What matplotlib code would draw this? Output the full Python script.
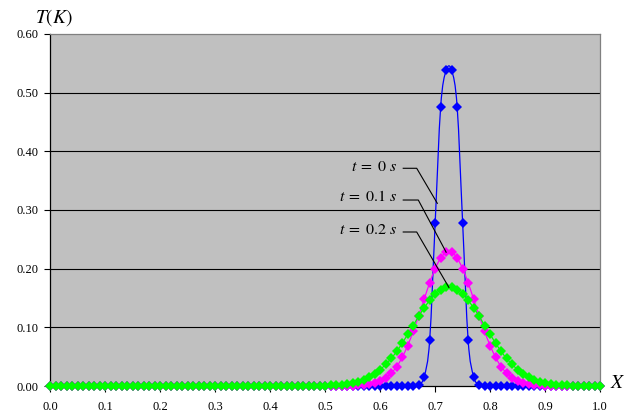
import numpy as np
import matplotlib
matplotlib.use("Agg")
import matplotlib.pyplot as plt
from matplotlib.path import Path
from matplotlib.patches import PathPatch

plt.rcParams["font.family"] = ["Liberation Serif", "DejaVu Serif"]
plt.rcParams["mathtext.fontset"] = "stix"

# Spatial grid (101 nodes on [0, 1])
x_pos = np.linspace(0.0, 1.0, 101)

# Temperature profiles T(K) at three times
temp_t0 = ([0.0] * 67 +
           [0.002, 0.016, 0.078,
            0.278, 0.476, 0.538, 0.538, 0.476, 0.278, 0.078, 0.016, 0.002] +
           [0.0] * 22)

temp_t01 = ([0.0] * 56 +
            [0.001, 0.001, 0.003, 0.005,
             0.008, 0.014, 0.022, 0.033, 0.049, 0.069, 0.093, 0.120, 0.148, 0.176,
             0.200, 0.218, 0.228, 0.228, 0.218, 0.200, 0.176, 0.148, 0.120, 0.093,
             0.069, 0.049, 0.033, 0.022, 0.014, 0.008, 0.005, 0.003, 0.001, 0.001] +
            [0.0] * 11)

temp_t02 = ([0.0] * 51 +
            [0.001, 0.001, 0.002, 0.003, 0.005, 0.007, 0.011, 0.015, 0.021,
             0.028, 0.037, 0.047, 0.059, 0.073, 0.088, 0.103, 0.119, 0.133, 0.146,
             0.156, 0.164, 0.168, 0.168, 0.164, 0.156, 0.146, 0.133, 0.119, 0.103,
             0.088, 0.073, 0.059, 0.047, 0.037, 0.028, 0.021, 0.015, 0.011, 0.007,
             0.005, 0.003, 0.002, 0.001, 0.001] +
            [0.0] * 6)

series_colors = ["#0000FF", "#FF00FF", "#00FF00"]
x_ticks = [0.0, 0.1, 0.2, 0.3, 0.4, 0.5, 0.6, 0.7, 0.8, 0.9, 1.0]
y_ticks = [0.0, 0.1, 0.2, 0.3, 0.4, 0.5, 0.6]


def smooth_path(xs, ys):
    """Catmull-Rom style cubic Bezier path through the given points."""
    pts = np.column_stack([xs, ys])
    n = len(pts)
    verts = [pts[0]]
    codes = [Path.MOVETO]
    for i in range(n - 1):
        p0 = pts[i - 1] if i > 0 else pts[i]
        p1 = pts[i]
        p2 = pts[i + 1]
        p3 = pts[i + 2] if i + 2 < n else pts[i + 1]
        c1 = p1 + (p2 - p0) / 6.0
        c2 = p2 - (p3 - p1) / 6.0
        verts += [c1, c2, p2]
        codes += [Path.CURVE4] * 3
    return Path(verts, codes)


fig = plt.figure(figsize=(6.32, 4.12), dpi=100)
ax = fig.add_axes([0.0799, 0.0631, 0.8695, 0.8544])
ax.set_facecolor("#C0C0C0")
ax.set_xlim(0.0, 1.0)
ax.set_ylim(0.0, 0.6)

# horizontal gridlines
for yv in y_ticks[1:-1]:
    ax.axhline(yv, color="black", lw=0.8, zorder=1)

for vals, col in zip([temp_t0, temp_t01, temp_t02], series_colors):
    patch = PathPatch(smooth_path(x_pos, np.asarray(vals)), facecolor="none",
                      edgecolor=col, lw=0.9, zorder=3, clip_on=False)
    ax.add_patch(patch)
    ax.plot(x_pos, vals, linestyle="none", marker="D", markersize=4.8,
            color=col, markeredgewidth=0, zorder=4, clip_on=False)

ax.set_xticks(x_ticks)
ax.set_xticklabels([f"{v:.1f}" for v in x_ticks])
ax.set_yticks(y_ticks)
ax.set_yticklabels([f"{v:.2f}" for v in y_ticks])
ax.tick_params(axis="both", direction="out", labelsize=9, color="black")
ax.tick_params(axis="y", length=4, width=0.8, pad=4.5)
ax.tick_params(axis="x", length=4, width=0.8, pad=6.5)

for side in ("left", "bottom"):
    ax.spines[side].set_color("black")
    ax.spines[side].set_linewidth(0.9)
for side in ("top", "right"):
    ax.spines[side].set_color("#808080")
    ax.spines[side].set_linewidth(0.9)

# axis titles
fig.text(54 / 632, 1 - 18 / 412, r"$T(K)$", fontsize=14, ha="center", va="center")
fig.text(618 / 632, 1 - 384 / 412, r"$X$", fontsize=14, ha="center", va="center")

# time labels with leader lines
labels = [
    (r"$t\;=\;0\ s$", 0.3738, [(0.6419, 0.3711), (0.6664, 0.3711), (0.7039, 0.3114)]),
    (r"$t\;=\;0.1\ s$", 0.3216, [(0.6419, 0.3170), (0.6693, 0.3170), (x_pos[72], temp_t01[72])]),
    (r"$t\;=\;0.2\ s$", 0.2659, [(0.6419, 0.2625), (0.6664, 0.2625), (0.725, temp_t02[72])]),
]
for txt, ty, leader in labels:
    ax.text(0.630, ty, txt, fontsize=11.5, ha="right", va="center", zorder=6)
    lx, ly = zip(*leader)
    ax.plot(lx, ly, color="black", lw=0.8, zorder=5)

fig.savefig("out.png", dpi=100)
